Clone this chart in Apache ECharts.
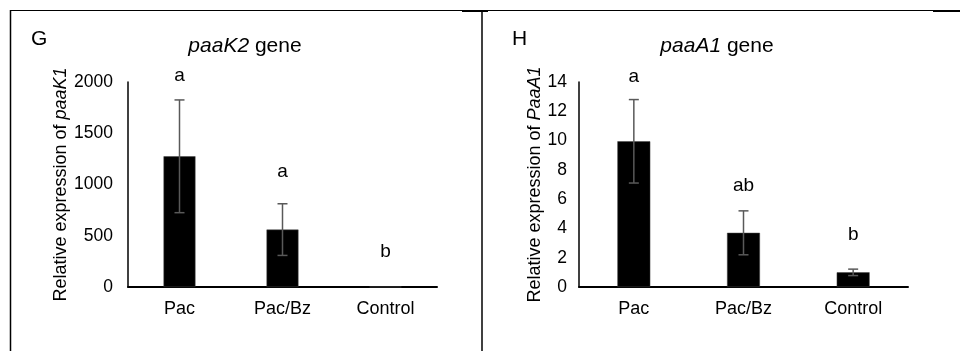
<!DOCTYPE html>
<html>
<head>
<meta charset="utf-8">
<script src="https://cdn.jsdelivr.net/npm/echarts@6/dist/echarts.min.js"></script>
<style>
html,body{margin:0;padding:0;background:#fff;}
#main{width:960px;height:351px;}
</style>
</head>
<body>
<div id="main"></div>
<script>
// data
var categories = ['Pac', 'Pac/Bz', 'Control'];

// G: paaK2
var paaK2Mean = [1275, 560, 1];
var paaK2Sd = [550, 252, 0];
var paaK2Letters = ['a', 'a', 'b'];
var paaK2LetterAt = [2060, 1120, 340];
var paaK2Ticks = [0, 500, 1000, 1500, 2000];

// H: paaA1
var paaA1Mean = [9.95, 3.7, 1.0];
var paaA1Sd = [2.85, 1.5, 0.22];
var paaA1Letters = ['a', 'ab', 'b'];
var paaA1LetterAt = [14.35, 6.9, 3.55];
var paaA1Ticks = [0, 2, 4, 6, 8, 10, 12, 14];

var FONT = 'Liberation Sans, Arial, sans-serif';

var chart = echarts.init(document.getElementById('main'));

function errorSeries(idx, mean, sd) {
    return {
        type: 'custom',
        xAxisIndex: idx,
        yAxisIndex: idx,
        z: 5,
        silent: true,
        clip: false,
        data: mean.map(function (m, i) { return [i, m - sd[i], m + sd[i]]; }),
        renderItem: function (params, api) {
            if (api.value(2) === api.value(1)) return null;
            var lo = api.coord([api.value(0), api.value(1)]);
            var hi = api.coord([api.value(0), api.value(2)]);
            var cap = 5;
            var st = { stroke: '#595959', lineWidth: 1.5 };
            return {
                type: 'group',
                children: [
                    { type: 'line', shape: { x1: hi[0], y1: hi[1], x2: lo[0], y2: lo[1] }, style: st },
                    { type: 'line', shape: { x1: hi[0] - cap, y1: hi[1], x2: hi[0] + cap, y2: hi[1] }, style: st },
                    { type: 'line', shape: { x1: lo[0] - cap, y1: lo[1], x2: lo[0] + cap, y2: lo[1] }, style: st }
                ]
            };
        }
    };
}

// significance letters, drawn as text at a value position
function letterSeries(idx, at, letters) {
    return {
        type: 'custom',
        xAxisIndex: idx,
        yAxisIndex: idx,
        silent: true,
        clip: false,
        z: 6,
        data: at.map(function (v, i) { return [i, v]; }),
        renderItem: function (params, api) {
            var p = api.coord([api.value(0), api.value(1)]);
            return {
                type: 'text',
                x: p[0],
                y: p[1],
                style: {
                    text: letters[params.dataIndex],
                    fill: '#000',
                    font: '19px ' + FONT,
                    align: 'center',
                    verticalAlign: 'middle'
                }
            };
        }
    };
}

function xAxis(idx) {
    return {
        type: 'category',
        gridIndex: idx,
        data: categories,
        boundaryGap: true,
        axisLine: { lineStyle: { color: '#000', width: 2 } },
        axisTick: { show: false },
        axisLabel: { color: '#000', fontFamily: FONT, fontSize: 18, margin: 13 }
    };
}

function yAxis(idx, ticks, name) {
    return {
        type: 'value',
        gridIndex: idx,
        min: ticks[0],
        max: ticks[ticks.length - 1],
        interval: ticks[1] - ticks[0],
        name: name,
        nameLocation: 'middle',
        nameGap: idx === 0 ? 56 : 27,
        nameRotate: 90,
        nameTextStyle: { color: '#000', fontFamily: FONT, fontSize: 18, rich: {
            i: { fontStyle: 'italic', fontFamily: FONT, fontSize: 18, color: '#000' }
        } },
        axisLine: { show: true, lineStyle: { color: '#000', width: 1.5 } },
        axisTick: { show: false },
        splitLine: { show: false },
        axisLabel: { color: '#000', fontFamily: FONT, fontSize: 17.5, margin: idx === 0 ? 15 : 12,
            formatter: function (v) { return String(v); } }
    };
}

var option = {
    animation: false,
    backgroundColor: '#fff',
    grid: [
        { left: 128, right: 523, top: 82, bottom: 64 },
        { left: 579, right: 52, top: 82, bottom: 64 }
    ],
    title: [
        { text: 'G', left: 26, top: 24, textStyle: { fontFamily: FONT, fontSize: 21, fontWeight: 'normal', color: '#000' } },
        { text: '{i|paaK2} gene', left: 240, top: 31, textAlign: 'center',
          textStyle: { fontFamily: FONT, fontSize: 21, fontWeight: 'normal', color: '#000',
            rich: { i: { fontStyle: 'italic', fontFamily: FONT, fontSize: 21, color: '#000' } } } },
        { text: 'H', left: 507, top: 24, textStyle: { fontFamily: FONT, fontSize: 21, fontWeight: 'normal', color: '#000' } },
        { text: '{i|paaA1} gene', left: 712, top: 31, textAlign: 'center',
          textStyle: { fontFamily: FONT, fontSize: 21, fontWeight: 'normal', color: '#000',
            rich: { i: { fontStyle: 'italic', fontFamily: FONT, fontSize: 21, color: '#000' } } } }
    ],
    xAxis: [xAxis(0), xAxis(1)],
    yAxis: [
        yAxis(0, paaK2Ticks, 'Relative expression of {i|paaK1}'),
        yAxis(1, paaA1Ticks, 'Relative expression of {i|PaaA1}')
    ],
    series: [
        {
            type: 'bar', xAxisIndex: 0, yAxisIndex: 0, data: paaK2Mean,
            barWidth: '31%', silent: true,
            itemStyle: { color: '#000', borderColor: '#444', borderWidth: 0.5 }
        },
        errorSeries(0, paaK2Mean, paaK2Sd),
        letterSeries(0, paaK2LetterAt, paaK2Letters),
        {
            type: 'bar', xAxisIndex: 1, yAxisIndex: 1, data: paaA1Mean,
            barWidth: '30%', silent: true,
            itemStyle: { color: '#000', borderColor: '#444', borderWidth: 0.5 }
        },
        errorSeries(1, paaA1Mean, paaA1Sd),
        letterSeries(1, paaA1LetterAt, paaA1Letters)
    ],
    graphic: [
        { type: 'line', shape: { x1: 10, y1: 10.5, x2: 960, y2: 10.5 }, style: { stroke: '#000', lineWidth: 1 } },
        { type: 'line', shape: { x1: 462, y1: 11, x2: 488, y2: 11 }, style: { stroke: '#000', lineWidth: 2 } },
        { type: 'line', shape: { x1: 933, y1: 11, x2: 960, y2: 11 }, style: { stroke: '#000', lineWidth: 2 } },
        { type: 'line', shape: { x1: 10.5, y1: 10, x2: 10.5, y2: 351 }, style: { stroke: '#000', lineWidth: 1.5 } },
        { type: 'line', shape: { x1: 482, y1: 10, x2: 482, y2: 351 }, style: { stroke: '#000', lineWidth: 1.5 } }
    ]
};

chart.setOption(option);
</script>
</body>
</html>
